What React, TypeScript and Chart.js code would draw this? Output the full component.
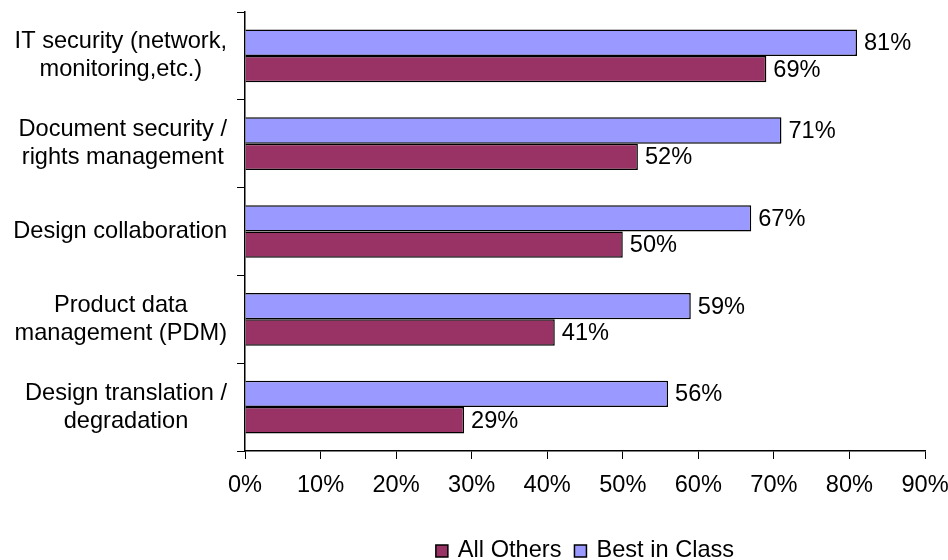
import React, { useEffect, useRef } from "react";
import { Chart, registerables } from "chart.js";

Chart.register(...registerables);

const categories: string[][] = [
  ["IT security (network,", "monitoring,etc.)"],
  ["Document security /", "rights management"],
  ["Design collaboration"],
  ["Product data", "management (PDM)"],
  ["Design translation /", "degradation"],
];
const bestInClass: number[] = [81, 71, 67, 59, 56];
const allOthers: number[] = [69, 52, 50, 41, 29];
const xTicks: number[] = [0, 10, 20, 30, 40, 50, 60, 70, 80, 90];

const FONT = "'Liberation Sans', Arial, Helvetica, sans-serif";
const FONT_SIZE = 23.6;
const BLUE = "#9999FF";
const MAROON = "#993366";

// Category labels: each block right-aligned to the axis, lines centred within the block.
const categoryLabels = {
  id: "categoryLabels",
  afterDraw(chart: any) {
    const { ctx, scales } = chart;
    const y = scales.y;
    const right = chart.chartArea.left - 18;
    const lh = 28;
    ctx.save();
    ctx.font = `${FONT_SIZE}px ${FONT}`;
    ctx.fillStyle = "#000";
    ctx.textAlign = "center";
    ctx.textBaseline = "middle";
    categories.forEach((lines, i) => {
      const yc = y.getPixelForValue(i);
      const maxw = Math.max(...lines.map((l) => ctx.measureText(l).width));
      const cx = right - maxw / 2;
      const y0 = yc - ((lines.length - 1) * lh) / 2;
      lines.forEach((l, k) => ctx.fillText(l, cx, y0 + k * lh));
    });
    ctx.restore();
  },
};

// Percent labels just past the end of each bar.
const valueLabels = {
  id: "valueLabels",
  afterDatasetsDraw(chart: any) {
    const { ctx } = chart;
    ctx.save();
    ctx.font = `${FONT_SIZE}px ${FONT}`;
    ctx.fillStyle = "#000";
    ctx.textAlign = "left";
    ctx.textBaseline = "middle";
    chart.data.datasets.forEach((ds: any, di: number) => {
      const meta = chart.getDatasetMeta(di);
      meta.data.forEach((bar: any, i: number) => {
        ctx.fillText(`${ds.data[i]}%`, bar.x + 7, bar.y + 1);
      });
    });
    ctx.restore();
  },
};

// Legend centred under the plot area, "All Others" first.
const bottomLegend = {
  id: "bottomLegend",
  afterDraw(chart: any) {
    const { ctx, chartArea } = chart;
    const items = [...chart.data.datasets].reverse().map((d: any) => ({
      text: d.label as string,
      color: d.backgroundColor as string,
    }));
    const box = 12;
    const gapBoxText = 10;
    const gapItems = 13;
    ctx.save();
    ctx.font = `${FONT_SIZE}px ${FONT}`;
    const widths = items.map((it) => box + gapBoxText + ctx.measureText(it.text).width);
    const total = widths.reduce((a, b) => a + b, 0) + gapItems * (items.length - 1);
    let x = (chartArea.left + chartArea.right) / 2 - total / 2;
    const yc = 550;
    ctx.textBaseline = "middle";
    ctx.textAlign = "left";
    items.forEach((it, i) => {
      ctx.fillStyle = it.color;
      ctx.fillRect(x, yc - box / 2 + 1, box, box);
      ctx.strokeStyle = "#000";
      ctx.lineWidth = 1.5;
      ctx.strokeRect(x, yc - box / 2 + 1, box, box);
      ctx.fillStyle = "#000";
      ctx.fillText(it.text, x + box + gapBoxText, yc);
      x += widths[i] + gapItems;
    });
    ctx.restore();
  },
};

export default function App() {
  const ref = useRef<HTMLCanvasElement | null>(null);

  useEffect(() => {
    if (!ref.current) return;
    const chart = new Chart(ref.current, {
      type: "bar",
      data: {
        labels: categories.map((c) => c.join(" ")),
        datasets: [
          {
            label: "Best in Class",
            data: bestInClass,
            backgroundColor: BLUE,
            borderColor: "#000",
            borderWidth: 1.5,
            categoryPercentage: 0.6,
            barPercentage: 1,
          },
          {
            label: "All Others",
            data: allOthers,
            backgroundColor: MAROON,
            borderColor: "#000",
            borderWidth: 1.5,
            categoryPercentage: 0.6,
            barPercentage: 1,
          },
        ],
      },
      options: {
        indexAxis: "y",
        animation: false,
        responsive: true,
        maintainAspectRatio: false,
        layout: { padding: { top: 12, right: 23, left: 0, bottom: 0 } },
        plugins: {
          legend: { display: false },
          tooltip: { enabled: false },
        },
        scales: {
          y: {
            type: "category",
            offset: true,
            grid: {
              offset: true,
              drawOnChartArea: false,
              drawTicks: true,
              tickLength: 8,
              color: "#000",
            },
            border: { display: true, color: "#000", width: 1.5 },
            ticks: { display: false },
            afterFit(scale: any) {
              scale.width = 245;
            },
          },
          x: {
            type: "linear",
            min: xTicks[0],
            max: xTicks[xTicks.length - 1],
            afterBuildTicks(scale: any) {
              scale.ticks = xTicks.map((v) => ({ value: v }));
            },
            grid: {
              drawOnChartArea: false,
              drawTicks: true,
              tickLength: 8,
              color: "#000",
            },
            border: { display: true, color: "#000", width: 1.5 },
            ticks: {
              color: "#000",
              padding: 12,
              maxRotation: 0,
              font: { family: FONT, size: FONT_SIZE },
              callback: (v: any) => `${v}%`,
            },
            afterFit(scale: any) {
              scale.height = 109;
              scale.paddingLeft = 0;
              scale.paddingRight = 0;
            },
          },
        },
      },
      plugins: [categoryLabels, valueLabels, bottomLegend],
    });
    return () => chart.destroy();
  }, []);

  return (
    <div style={{ position: "fixed", left: 0, top: 0, width: 948, height: 560, background: "#fff" }}>
      <canvas ref={ref} />
    </div>
  );
}
